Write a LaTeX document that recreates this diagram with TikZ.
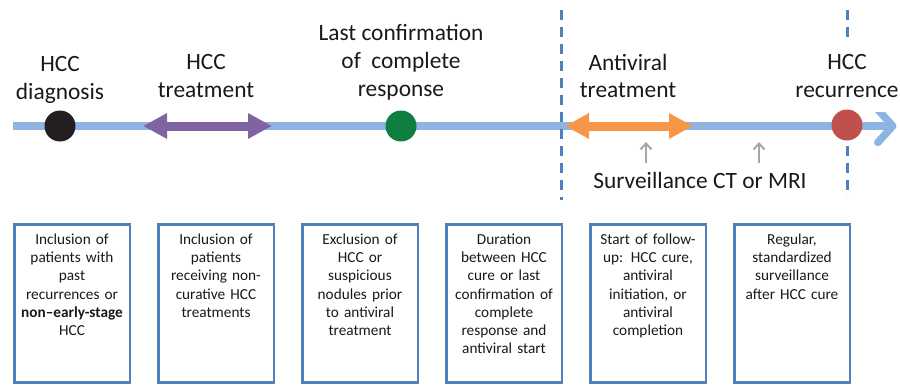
\documentclass[tikz,border=0pt]{standalone}
\usepackage{fontspec}
\setmainfont{Carlito}
\usepackage{xcolor}
\usepackage{tikz}
\usetikzlibrary{positioning,arrows.meta}
\definecolor{lineblue}{HTML}{8EB4E3}
\definecolor{markblue}{HTML}{4F81BD}
\definecolor{txpurple}{HTML}{8064A2}
\definecolor{avorange}{HTML}{F79646}
\definecolor{dxblack}{HTML}{231F20}
\definecolor{crgreen}{HTML}{0F7F3F}
\definecolor{recred}{HTML}{C0504D}
\definecolor{survgrey}{HTML}{A6A6A6}

\begin{document}
\begin{tikzpicture}[>=Stealth, node distance=0.52cm,
    every node/.style={align=center, text=black!90},
    evt/.style={font=\fontsize{13.3}{15.9}\selectfont, inner sep=0pt},
    critbox/.style={draw=markblue, line width=0.05cm, text width=2.15cm,
      inner xsep=0.08cm, inner ysep=0pt, text height=0.40cm, text depth=2.76cm,
      font=\fontsize{8.7}{10.4}\selectfont},
    marker/.style={circle, minimum size=0.62cm, inner sep=0pt}]
  \useasboundingbox (0,0) rectangle (18,7.7);

  % timeline and the two dashed limits
  \coordinate (tstart) at (0.26,5.18);
  \coordinate (tend) at (17.93,5.18);
  \coordinate (lim1top) at (11.22,7.50);
  \coordinate (lim1bot) at (11.22,3.70);
  \coordinate (lim2top) at (16.94,7.50);
  \coordinate (lim2bot) at (16.94,3.76);
  \draw[line width=0.15cm, lineblue, -{Straight Barb[length=0.30cm,width=0.66cm,round]}]
    (tstart) -- (tend);
  \draw[markblue, line width=0.06cm, dash pattern=on 0.2cm off 0.14cm] (lim1top) -- (lim1bot);
  \draw[markblue, line width=0.06cm, dash pattern=on 0.2cm off 0.14cm] (lim2top) -- (lim2bot);

  % event labels
  \node[evt] (diag) at (1.20,6.11) {HCC\\diagnosis};
  \node[evt] (hcctx) at (4.12,6.18) {HCC\\treatment};
  \node[evt] (lastcr) at (8.02,6.45) {Last confirmation\\of\ \ complete\\response};
  \node[evt] (avtx) at (12.56,6.18) {Antiviral\\treatment};
  \node[evt, fill=white, inner ysep=0.28cm] (recur) at (16.94,6.18) {HCC\\recurrence};
  \node[evt] (surv) at (14.00,4.09) {Surveillance CT or MRI};

  % markers on the timeline
  \node[marker, fill=dxblack] (diagdot) at (1.20,5.18) {};
  \node[marker, fill=crgreen] (crdot) at (8.02,5.18) {};
  \node[marker, fill=recred] (recdot) at (16.94,5.20) {};

  % treatment periods
  \coordinate (tx1) at (2.86,5.18);
  \coordinate (tx2) at (5.44,5.18);
  \coordinate (av1) at (11.30,5.18);
  \coordinate (av2) at (13.86,5.18);
  \draw[line width=0.18cm, txpurple,
    {Triangle[length=0.48cm,width=0.48cm]}-{Triangle[length=0.48cm,width=0.48cm]}] (tx1) -- (tx2);
  \draw[line width=0.18cm, avorange,
    {Triangle[length=0.48cm,width=0.48cm]}-{Triangle[length=0.48cm,width=0.48cm]}] (av1) -- (av2);

  % surveillance imaging
  \coordinate (sv1a) at (12.92,4.44);
  \coordinate (sv1b) at (12.92,4.86);
  \coordinate (sv2a) at (15.18,4.44);
  \coordinate (sv2b) at (15.18,4.86);
  \draw[survgrey, line width=0.04cm, -{Straight Barb[length=0.12cm,width=0.22cm]}] (sv1a) -- (sv1b);
  \draw[survgrey, line width=0.04cm, -{Straight Barb[length=0.12cm,width=0.22cm]}] (sv2a) -- (sv2b);

  % study criteria
  \node[critbox, anchor=north] (c1) at (1.44,3.24)
    {Inclusion of\\patients with\\past\\recurrences or\\\textbf{non--early-stage}\\HCC};
  \node[critbox, anchor=north, right=of c1] (c2)
    {Inclusion of\\patients\\receiving non-\\curative HCC\\treatments};
  \node[critbox, anchor=north, right=of c2] (c3)
    {Exclusion of\\HCC or\\suspicious\\nodules prior\\to antiviral\\treatment};
  \node[critbox, anchor=north, right=of c3] (c4)
    {Duration\\between HCC\\cure or last\\confirmation of\\complete\\response and\\antiviral start};
  \node[critbox, anchor=north, right=of c4] (c5)
    {Start of follow-\\up: HCC cure,\\antiviral\\initiation, or\\antiviral\\completion};
  \node[critbox, anchor=north, right=of c5] (c6)
    {Regular,\\standardized\\surveillance\\after HCC cure};
\end{tikzpicture}
\end{document}
